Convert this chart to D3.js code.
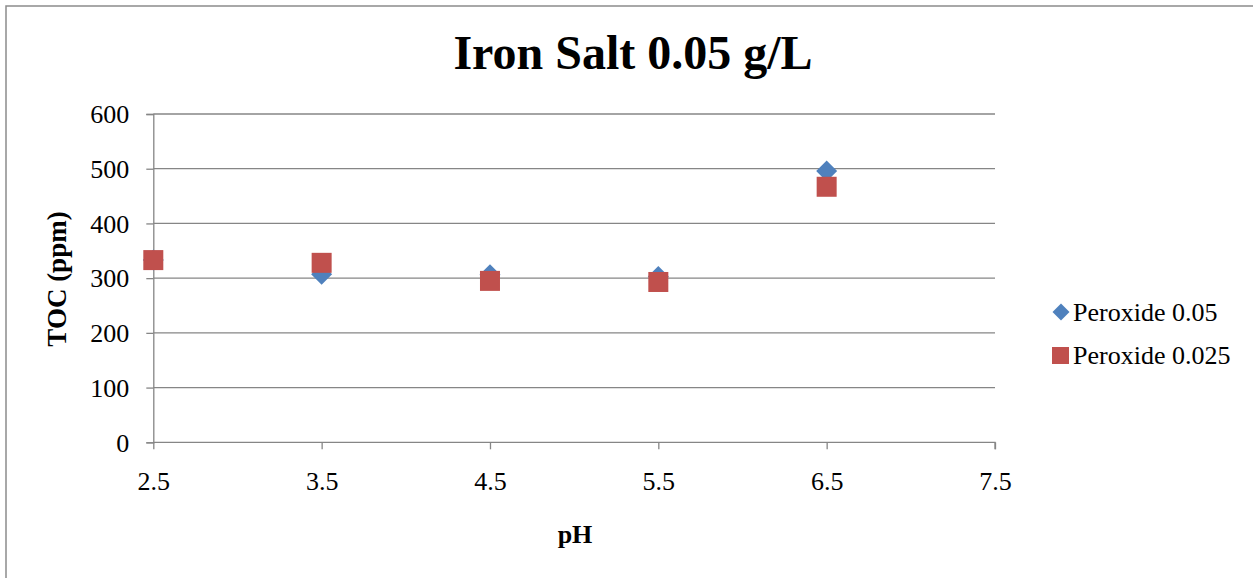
<!DOCTYPE html>
<html>
<head>
<meta charset="utf-8">
<script src="https://cdn.jsdelivr.net/npm/d3@7"></script>
<style>
  html, body { margin: 0; padding: 0; background: #fff; }
  svg { display: block; }
  text { font-family: "Liberation Serif", "Times New Roman", serif; fill: #000; }
</style>
</head>
<body>
<script>
// pH values tested
const phValues = [2.5, 3.5, 4.5, 5.5, 6.5];
// TOC (ppm) for each peroxide dose
const peroxide005 = [333, 307, 306, 303, 496];
const peroxide0025 = [333, 328, 295, 293, 467];
const seriesNames = ["Peroxide 0.05", "Peroxide 0.025"];
const xTicks = [2.5, 3.5, 4.5, 5.5, 6.5, 7.5];
const yTicks = [0, 100, 200, 300, 400, 500, 600];

const W = 1253, H = 578;
const gridColor = "#868686";
const blue = "#4F81BD", red = "#C0504D";
const serif = "'Liberation Serif', 'Times New Roman', serif";

const svg = d3.select("body").append("svg").attr("width", W).attr("height", H);

// outer chart border
svg.append("rect")
  .attr("x", 6).attr("y", 6).attr("width", W + 10).attr("height", H + 10)
  .attr("fill", "#fff").attr("stroke", "#8c8c8c").attr("stroke-width", 1.5);

const x = d3.scaleLinear().domain([2.5, 7.5]).range([153.3, 995]);
const y = d3.scaleLinear().domain([0, 600]).range([442.3, 114]);

// horizontal gridlines
svg.append("g").selectAll("line")
  .data(yTicks.filter(d => d > 0))
  .join("line")
  .attr("x1", x(2.5)).attr("x2", x(7.5))
  .attr("y1", d => y(d)).attr("y2", d => y(d))
  .attr("stroke", gridColor).attr("stroke-width", 1.3);

// y axis
const yAxis = svg.append("g")
  .attr("transform", `translate(${x(2.5)},0)`)
  .call(d3.axisLeft(y).tickValues(yTicks).tickSize(7).tickPadding(17).tickFormat(d3.format("d")));
yAxis.attr("font-family", serif);
yAxis.select(".domain").attr("stroke", gridColor).attr("stroke-width", 1.3);
yAxis.selectAll(".tick line").attr("stroke", gridColor).attr("stroke-width", 1.3);
yAxis.selectAll(".tick text")
  .attr("font-size", 26).attr("dy", "0.34em")
  .style("font-family", serif).attr("fill", "#000");

// x axis
const xAxis = svg.append("g")
  .attr("transform", `translate(0,${y(0)})`)
  .call(d3.axisBottom(x).tickValues(xTicks).tickSize(7).tickPadding(0).tickFormat(d3.format(".1f")));
xAxis.attr("font-family", serif);
xAxis.select(".domain").attr("stroke", gridColor).attr("stroke-width", 1.3)
  .attr("d", `M${x(2.5)},0H${x(7.5)}V7`);
xAxis.selectAll(".tick line").attr("stroke", gridColor).attr("stroke-width", 1.3);
xAxis.selectAll(".tick text")
  .attr("font-size", 26).attr("y", 48).attr("dy", 0)
  .style("font-family", serif).attr("fill", "#000");

// title and axis titles
svg.append("text")
  .attr("x", 633).attr("y", 69).attr("text-anchor", "middle")
  .attr("font-size", 48).attr("font-weight", "bold")
  .text("Iron Salt 0.05 g/L");

svg.append("text")
  .attr("x", 575).attr("y", 543).attr("text-anchor", "middle")
  .attr("font-size", 26).attr("font-weight", "bold")
  .text("pH");

svg.append("text")
  .attr("transform", `translate(66,279) rotate(-90)`)
  .attr("text-anchor", "middle")
  .attr("font-size", 27).attr("font-weight", "bold")
  .text("TOC (ppm)");

// markers
const diamond = s => `M0,${-s}L${s},0L0,${s}L${-s},0Z`;
const series1 = phValues.map((p, i) => ({ x: p, y: peroxide005[i] }));
const series2 = phValues.map((p, i) => ({ x: p, y: peroxide0025[i] }));

svg.append("g").selectAll("path")
  .data(series1)
  .join("path")
  .attr("transform", d => `translate(${x(d.x)},${y(d.y)})`)
  .attr("d", diamond(10.5))
  .attr("fill", blue);

svg.append("g").selectAll("rect")
  .data(series2)
  .join("rect")
  .attr("x", d => x(d.x) - 10).attr("y", d => y(d.y) - 10)
  .attr("width", 20).attr("height", 20)
  .attr("fill", red);

// legend
const legend = svg.append("g");
legend.append("path")
  .attr("transform", "translate(1061,312)")
  .attr("d", diamond(8.5)).attr("fill", blue);
legend.append("text")
  .attr("x", 1073).attr("y", 321).attr("font-size", 26)
  .text(seriesNames[0]);
legend.append("rect")
  .attr("x", 1052).attr("y", 347).attr("width", 17).attr("height", 17)
  .attr("fill", red);
legend.append("text")
  .attr("x", 1073).attr("y", 364).attr("font-size", 26)
  .text(seriesNames[1]);
</script>
</body>
</html>
